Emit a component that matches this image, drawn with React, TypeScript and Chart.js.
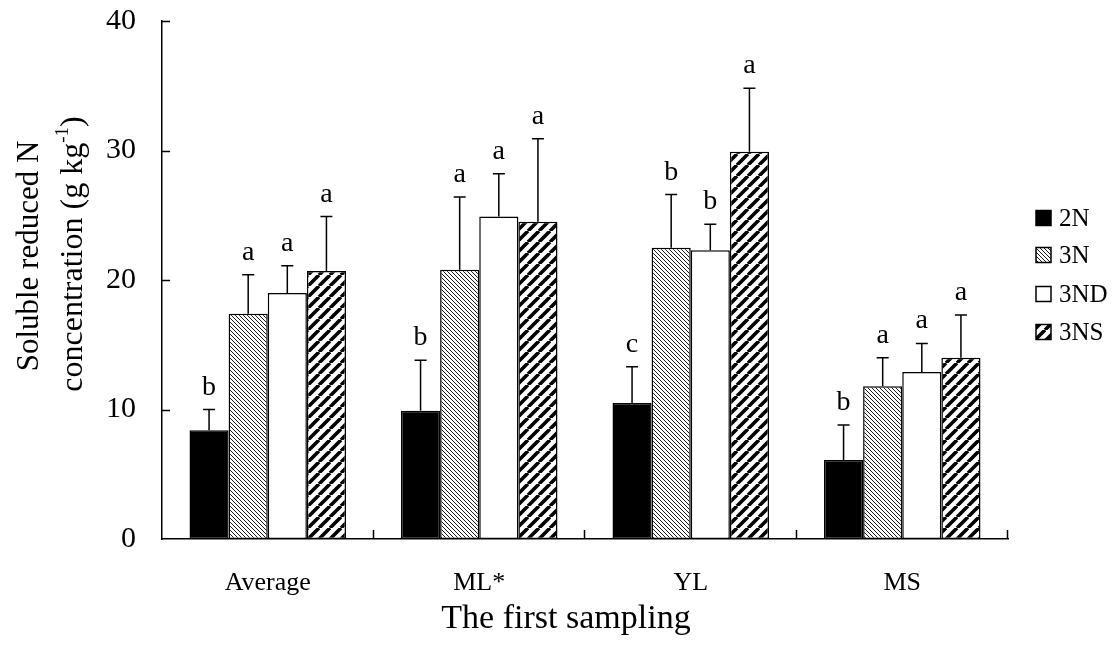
import React, { useEffect, useRef } from "react";
import { Chart, registerables } from "chart.js";

Chart.register(...registerables);

const categories = ["Average", "ML*", "YL", "MS"];
const seriesNames = ["2N", "3N", "3ND", "3NS"];

const values2N = [8.4, 9.9, 10.5, 6.1];
const values3N = [17.4, 20.8, 22.5, 11.8];
const values3ND = [19.0, 24.9, 22.3, 12.9];
const values3NS = [20.7, 24.5, 29.9, 14.0];

const errors2N = [1.6, 3.9, 2.8, 2.7];
const errors3N = [3.0, 5.6, 4.1, 2.2];
const errors3ND = [2.1, 3.3, 2.0, 2.2];
const errors3NS = [4.2, 6.4, 4.9, 3.3];

const letters2N = ["b", "b", "c", "b"];
const letters3N = ["a", "a", "b", "a"];
const letters3ND = ["a", "a", "b", "a"];
const letters3NS = ["a", "a", "a", "a"];

const yMin = 0;
const yMax = 40;
const yStep = 10;

const xTitle = "The first sampling";
const yTitleLine1 = "Soluble reduced N";
const yTitleLine2 = "concentration (g kg";
const yTitleSup = "-1";
const yTitleEnd = ")";

const FONT = "'Liberation Serif', 'Times New Roman', serif";

function makeHatch(size: number, lineWidth: number, dir: "back" | "fwd"): CanvasPattern | string {
  const c = document.createElement("canvas");
  c.width = size;
  c.height = size;
  const ctx = c.getContext("2d");
  if (!ctx) return "#888";
  ctx.fillStyle = "#fff";
  ctx.fillRect(0, 0, size, size);
  ctx.strokeStyle = "#000";
  ctx.lineWidth = lineWidth;
  ctx.beginPath();
  for (let k = -1; k <= 1; k++) {
    if (dir === "back") {
      ctx.moveTo(k * size, 0);
      ctx.lineTo(k * size + size, size);
    } else {
      ctx.moveTo(k * size, size);
      ctx.lineTo(k * size + size, 0);
    }
  }
  ctx.stroke();
  const p = ctx.createPattern(c, "repeat");
  return p || "#888";
}

export default function App() {
  const ref = useRef<HTMLCanvasElement | null>(null);

  useEffect(() => {
    document.body.style.margin = "0";
    const canvas = ref.current;
    if (!canvas) return;

    const fine = makeHatch(4, 0.9, "back");
    const bold = makeHatch(11, 3.6, "fwd");
    const fills: any[] = ["#000", fine, "#fff", bold];
    const allValues = [values2N, values3N, values3ND, values3NS];
    const allErrors = [errors2N, errors3N, errors3ND, errors3NS];
    const allLetters = [letters2N, letters3N, letters3ND, letters3NS];

    const decorPlugin = {
      id: "decor",
      afterDatasetsDraw(chart: any) {
        const ctx = chart.ctx as CanvasRenderingContext2D;
        const ys = chart.scales.y;
        const xs = chart.scales.x;
        const area = chart.chartArea;
        ctx.save();
        // error bars and letters
        allValues.forEach((vals, di) => {
          const meta = chart.getDatasetMeta(di);
          meta.data.forEach((el: any, j: number) => {
            const top = ys.getPixelForValue(vals[j] + allErrors[di][j]);
            const base = ys.getPixelForValue(vals[j]);
            ctx.strokeStyle = "#000";
            ctx.lineWidth = 1.5;
            ctx.beginPath();
            ctx.moveTo(el.x, base);
            ctx.lineTo(el.x, top);
            ctx.moveTo(el.x - 6, top);
            ctx.lineTo(el.x + 6, top);
            ctx.stroke();
            ctx.fillStyle = "#000";
            ctx.font = `28px ${FONT}`;
            ctx.textAlign = "center";
            ctx.textBaseline = "alphabetic";
            ctx.fillText(allLetters[di][j], el.x, top - 15);
          });
        });
        // inward ticks on y axis
        ctx.lineWidth = 1.5;
        ctx.beginPath();
        for (let v = yMin + yStep; v <= yMax; v += yStep) {
          const y = Math.round(ys.getPixelForValue(v)) + 0.5;
          ctx.moveTo(area.left, y);
          ctx.lineTo(area.left + 8, y);
        }
        // inward ticks on x axis at category boundaries
        for (let i = 0; i < categories.length; i++) {
          const c = xs.getPixelForValue(i);
          const half = (area.right - area.left) / categories.length / 2;
          const x = Math.round(c + half) - 0.5;
          ctx.moveTo(x, area.bottom);
          ctx.lineTo(x, area.bottom - 9);
        }
        ctx.stroke();

        // x title
        ctx.fillStyle = "#000";
        ctx.font = `34px ${FONT}`;
        ctx.textAlign = "center";
        ctx.textBaseline = "alphabetic";
        ctx.fillText(xTitle, 566, 628);

        // y title (rotated, two lines)
        ctx.save();
        ctx.translate(38, 256);
        ctx.rotate(-Math.PI / 2);
        ctx.font = `31px ${FONT}`;
        ctx.textAlign = "center";
        ctx.fillText(yTitleLine1, 0, 0);
        ctx.restore();

        ctx.save();
        ctx.translate(82, 254);
        ctx.rotate(-Math.PI / 2);
        ctx.font = `32px ${FONT}`;
        const w1 = ctx.measureText(yTitleLine2).width;
        ctx.font = `19px ${FONT}`;
        const w2 = ctx.measureText(yTitleSup).width;
        ctx.font = `32px ${FONT}`;
        const w3 = ctx.measureText(yTitleEnd).width;
        const total = w1 + w2 + w3;
        let x0 = -total / 2;
        ctx.textAlign = "left";
        ctx.fillText(yTitleLine2, x0, 0);
        x0 += w1;
        ctx.font = `19px ${FONT}`;
        ctx.fillText(yTitleSup, x0, -14);
        x0 += w2;
        ctx.font = `32px ${FONT}`;
        ctx.fillText(yTitleEnd, x0, 0);
        ctx.restore();

        // legend
        const legX = 1036;
        const legYs = [218, 255, 294, 332];
        seriesNames.forEach((name, i) => {
          const cy = legYs[i];
          ctx.fillStyle = fills[i];
          ctx.fillRect(legX, cy - 7.5, 15, 15);
          ctx.strokeStyle = "#000";
          ctx.lineWidth = 1.5;
          ctx.strokeRect(legX, cy - 7.5, 15, 15);
          ctx.fillStyle = "#000";
          ctx.font = `25px ${FONT}`;
          ctx.textAlign = "left";
          ctx.textBaseline = "middle";
          ctx.fillText(name, legX + 23, cy + 1);
        });
        ctx.restore();
      },
    };

    const chart = new Chart(canvas, {
      type: "bar",
      data: {
        labels: categories,
        datasets: seriesNames.map((name, i) => ({
          label: name,
          data: allValues[i],
          backgroundColor: fills[i],
          borderColor: "#000",
          borderWidth: 1.5,
          borderSkipped: false,
          categoryPercentage: 0.74,
          barPercentage: 1.0,
        })),
      },
      options: {
        animation: false,
        responsive: false,
        devicePixelRatio: 1,
        layout: { padding: { left: 0, top: 21, right: 107, bottom: 0 } },
        plugins: {
          legend: { display: false },
          tooltip: { enabled: false },
        },
        scales: {
          x: {
            grid: { display: false, drawTicks: false },
            border: { display: true, color: "#000", width: 1.5 },
            ticks: {
              color: "#000",
              font: { family: FONT, size: 26 },
              padding: 29,
              maxRotation: 0,
            },
            afterFit: (scale: any) => {
              scale.height = 107;
              scale.paddingLeft = 0;
              scale.paddingRight = 0;
            },
          },
          y: {
            min: yMin,
            max: yMax,
            grid: { display: false, drawTicks: false },
            border: { display: true, color: "#000", width: 1.5 },
            ticks: {
              stepSize: yStep,
              color: "#000",
              font: { family: FONT, size: 30 },
              padding: 26,
            },
            afterFit: (scale: any) => {
              scale.width = 162;
              scale.paddingTop = 0;
              scale.paddingBottom = 0;
            },
          },
        },
      },
      plugins: [decorPlugin],
    });

    return () => {
      chart.destroy();
    };
  }, []);

  return (
    <canvas
      ref={ref}
      width={1115}
      height={646}
      style={{ display: "block", width: 1115, height: 646 }}
    />
  );
}
